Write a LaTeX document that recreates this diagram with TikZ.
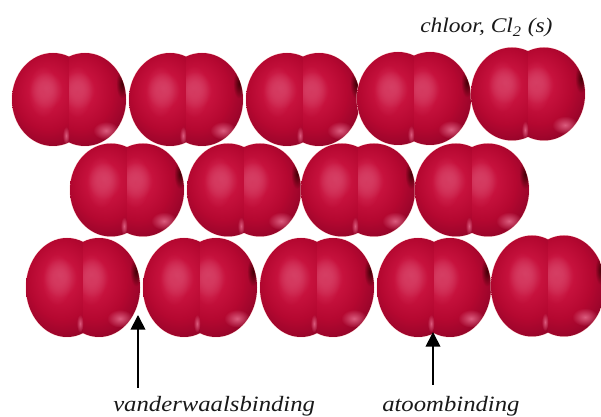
\documentclass[tikz,border=0pt]{standalone}
\usepackage{fontspec}
\setmainfont{Liberation Serif}
\newfontfamily\labelfont[FakeStretch=1.13]{Liberation Serif}
\usetikzlibrary{arrows.meta,fadings}
\definecolor{lobelight}{rgb}{0.83,0.22,0.37}
\definecolor{lobeglint}{rgb}{0.90,0.42,0.55}
\pgfdeclareradialshading{lobeshade}{\pgfpoint{-5bp}{6bp}}{%
  rgb(0bp)=(0.85,0.30,0.44);
  rgb(4bp)=(0.83,0.22,0.37);
  rgb(10bp)=(0.78,0.07,0.24);
  rgb(20bp)=(0.71,0.03,0.19);
  rgb(27bp)=(0.62,0.02,0.17);
  rgb(32bp)=(0.47,0.03,0.14);
  rgb(38bp)=(0.36,0.05,0.13);
  rgb(60bp)=(0.36,0.05,0.13)}
\tikzset{
  lobe/.style={shading=lobeshade},
  halo/.style={draw=pink!70,line width=0.7pt},
  glint/.style={fill=#1,path fading=spotfade},
  labeltext/.style={inner sep=0pt,font=\labelfont\fontsize{16.4pt}{19pt}\selectfont\itshape,text=black!90},
  titletext/.style={labeltext,font=\labelfont\fontsize{15.6pt}{19pt}\selectfont\itshape},
  bondarrow/.style={-{Triangle[length=11pt,width=11pt]},line width=1.3pt,black}
}
\tikzfading[name=spotfade,inner color=transparent!15,outer color=transparent!100]
% #1,#2 centre, #3 vertical radius
\newcommand{\chlmol}[3]{%
  \begin{scope}[shift={(#1,#2)}]
    \draw[halo] (-16,0) ellipse [x radius=41,y radius=#3];
    \draw[halo] (16,0) ellipse [x radius=41,y radius=#3];
    \begin{scope}
      \clip (-70,-60) rectangle (0.4,60);
      \shade[lobe] (-16,0) ellipse [x radius=41,y radius=#3];
      \fill[glint=lobelight] (-26,8) ellipse [x radius=15,y radius=26];
    \end{scope}
    \begin{scope}
      \clip (0,-60) rectangle (70,60);
      \shade[lobe] (16,0) ellipse [x radius=41,y radius=#3];
      \fill[glint=lobelight] (8,8) ellipse [x radius=15,y radius=26];
      \clip (16,0) ellipse [x radius=41,y radius=#3];
      \fill[glint=lobeglint] (37,-31) ellipse [x radius=13,y radius=9];
      \fill[glint=black!80!red] (53,16) ellipse [x radius=6,y radius=15];
    \end{scope}
    \fill[glint=lobeglint] (-3,-36) ellipse [x radius=3.5,y radius=9];
  \end{scope}}
\begin{document}
\begin{tikzpicture}[x=0.75pt,y=0.75pt]
\useasboundingbox (0,0) rectangle (601,417);
\clip (0,0) rectangle (601,417);
\fill[white] (0,0) rectangle (601,417);
% top row
\chlmol{69}{317.5}{46.5}
\chlmol{186}{317.5}{46.5}
\chlmol{303}{317.5}{46.5}
\chlmol{414}{318.5}{46.5}
\chlmol{528}{323}{46.5}
% middle row
\chlmol{127}{227}{46.5}
\chlmol{244}{227}{46.5}
\chlmol{358}{227}{46.5}
\chlmol{472}{227}{46.5}
% bottom row
\chlmol{83}{129.5}{49.5}
\chlmol{200}{129.5}{49.5}
\chlmol{317}{129.5}{49.5}
\chlmol{434}{129.5}{49.5}
\chlmol{548}{131}{50.5}
% labels
\node[titletext,anchor=base west] (title) at (420,384) {chloor, Cl\textsubscript{2} (s)};
\node[labeltext,anchor=base west] (vdw) at (113,5.5) {vanderwaalsbinding};
\node[labeltext,anchor=base west] (atom) at (382,5.5) {atoombinding};
% arrows
\coordinate (vdwtail) at (138,29);
\coordinate (vdwtip) at (138,102);
\coordinate (atomtail) at (433,32);
\coordinate (atomtip) at (433,85);
\draw[bondarrow] (vdwtail) -- (vdwtip);
\draw[bondarrow] (atomtail) -- (atomtip);
\end{tikzpicture}
\end{document}
